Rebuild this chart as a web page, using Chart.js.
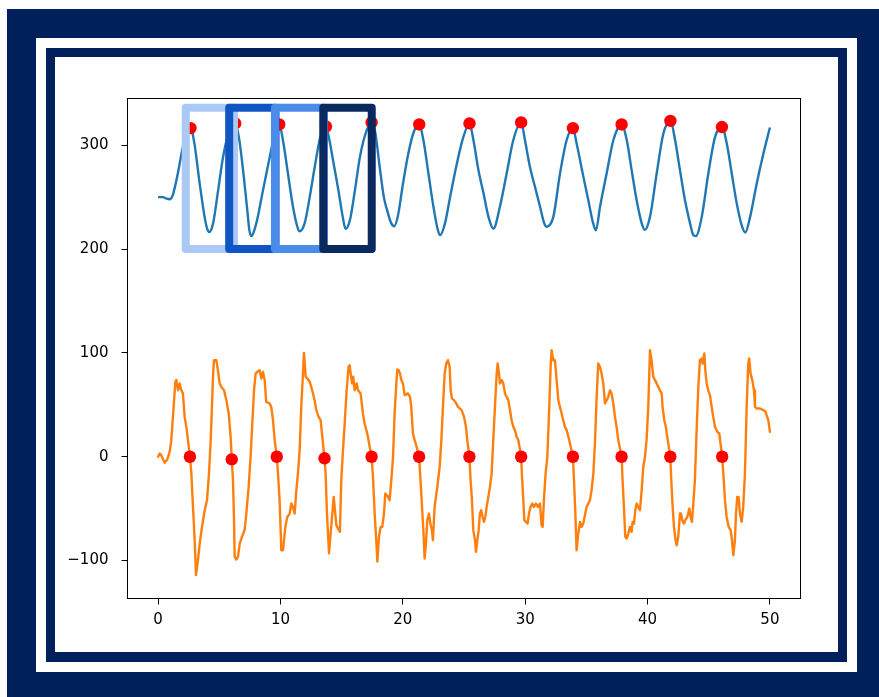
<!DOCTYPE html>
<html>
<head>
<meta charset="utf-8">
<script src="https://cdn.jsdelivr.net/npm/chart.js@4.4.0/dist/chart.umd.min.js"></script>
<style>
  html, body { margin: 0; padding: 0; background: #fff; }
  #stage { position: relative; width: 879px; height: 697px; overflow: hidden; background: #fff; }
  .f { position: absolute; }
  #outer { left: 7px; top: 9px; right: 0; bottom: 0; background: #00205b; }
  #gap   { left: 36px; top: 38px; width: 821px; height: 634px; background: #fff; }
  #inner { left: 46px; top: 48px; width: 801px; height: 614px; background: #00205b; }
  #panel { left: 55px; top: 57px; width: 783px; height: 595px; background: #fff; }
  #plot  { position: absolute; left: 0; top: 0; }
</style>
</head>
<body>
<div id="stage">
  <div class="f" id="outer"></div>
  <div class="f" id="gap"></div>
  <div class="f" id="inner"></div>
  <div class="f" id="panel"></div>
  <canvas id="plot" width="879" height="697"></canvas>
</div>
<script>
// Pressure waveform (time, value)
const blueT = [0,0.4,0.7,0.95,1.2,1.6,2.0,2.3,2.65,2.95,
  3.4,3.8,4.0,4.18,4.5,4.9,5.3,5.8,6.3,6.6,
  7.0,7.3,7.45,7.6,8.03,8.58,9.13,9.6,9.9,10.2,
  10.61,11.02,11.38,11.56,11.98,12.39,12.8,13.2,13.5,13.72,
  14.0,14.32,14.73,15.09,15.32,15.68,16.09,16.5,17.05,17.45,
  17.75,18.1,18.45,18.75,19.05,19.3,19.6,20.0,20.45,20.9,
  21.34,21.68,22.09,22.5,22.85,23.05,23.45,23.86,24.41,24.95,
  25.45,25.77,26.18,26.59,27.0,27.4,27.94,28.49,29.03,29.67,
  29.98,30.39,30.8,31.21,31.55,31.75,32.3,32.85,33.39,33.9,
  34.2,34.75,35.16,35.55,35.78,36.12,36.66,37.21,37.88,38.3,
  38.7,39.11,39.52,39.78,40.2,40.75,41.29,41.87,42.25,42.65,
  43.06,43.47,43.74,43.94,44.43,44.97,45.52,46.08,46.47,46.88,
  47.29,47.69,47.99,48.38,48.92,49.47,50.0];
const blueV = [250,250,248.5,248,252,272,297,312,316.5,303,
  263,231,220,216.5,225,256,288,313,321,308,
  270,236,219,212.5,225,257,289,314,320,305,
  273,241,221.5,217,225,250,279,305,316,318,
  305,284,257,231,219.5,228,257,289,314.5,322,
  312,280,250,236,225,222,232,262,292,313,
  320,305,273,241,219,213.5,225,250,282,308,
  321,305,276,254,231,219.5,241,273,305,322,
  305,279,260,241,225,221.5,231,273,305,316.5,
  302,270,247,225,218,241,273,305,320,305,
  276,247,225,218.5,231,273,311,323.5,305,276,
  247,225,213.5,212.5,231,273,308,317.5,302,273,
  244,223,216,231,263,292,317];

// ECG-like trace as [time, value]
const ecgSamples = [
  [0,0],[0.13,3.1],[0.26,1.5],[0.54,-5.9],[0.75,-2.7],[0.94,4.7],[1.08,16],[1.27,48],[1.41,72],[1.49,74],[1.63,64],[1.76,70.6],[1.9,64],[2.03,61],[2.17,38.4],[2.31,28.8],[2.44,16],[2.6,0],
  [2.72,-16],[2.85,-48],[2.99,-80],[3.1,-114],[3.26,-99.6],[3.4,-83.6],[3.59,-67.5],[3.81,-51.5],[4.0,-41.8],[4.16,-16],[4.3,16],[4.4,48],[4.51,83.4],[4.57,93],[4.76,93],[4.89,83.4],[5.03,70.6],[5.17,67.3],[5.39,64],[5.58,54.5],[5.77,41.7],[5.93,19.2],[6.02,-2.5],
  [6.12,-22.6],[6.2,-58],[6.26,-96.4],[6.39,-99],[6.53,-96.4],[6.67,-83.6],[6.86,-77],[7.07,-70.7],[7.21,-54.7],[7.4,-29],[7.56,0],[7.7,32],[7.84,64],[7.97,80],[8.11,81.8],[8.3,83.4],[8.44,75.4],[8.57,81.8],[8.71,73.8],[8.84,52.9],[9.12,51.3],[9.25,48],[9.39,35.2],[9.53,16],[9.7,0],
  [9.8,-16],[9.93,-41.8],[10.07,-90],[10.21,-90],[10.29,-80.4],[10.4,-67.5],[10.56,-58],[10.75,-54.7],[10.89,-45],[11.02,-48.3],[11.16,-54.7],[11.3,-32.2],[11.43,-16],[11.57,6.3],[11.7,48],[11.84,80],[11.92,100],[12.06,77],[12.2,75.4],[12.39,72.2],[12.52,67.3],[12.66,61],[12.79,54.5],[12.93,45],[13.12,38.4],[13.28,35.2],[13.42,19.2],[13.6,-1.5],
  [13.69,-16],[13.8,-54.7],[13.97,-93],[14.1,-74],[14.24,-54.7],[14.35,-38.6],[14.43,-48.3],[14.57,-66],[14.7,-69],[14.86,-72.3],[14.97,-22.6],[15.11,6.3],[15.25,32],[15.41,64],[15.57,86.6],[15.65,88.2],[15.74,80],[15.85,70.6],[15.95,77],[16.06,64],[16.23,70.6],[16.34,64],[16.55,61],[16.74,41.7],[16.88,32],[17.02,25.6],[17.15,19.2],[17.29,9.6],[17.45,0],
  [17.56,-19.4],[17.7,-54.7],[17.83,-80.4],[17.92,-101],[18.05,-77],[18.19,-67.5],[18.32,-67.5],[18.46,-54.7],[18.57,-35.4],[18.79,-38.6],[18.92,-41.8],[19.06,-22.6],[19.2,0],[19.33,41.7],[19.47,70.6],[19.55,84],[19.66,83.4],[19.77,80],[19.88,73.8],[20.01,70.6],[20.15,59.3],[20.42,61],[20.59,57.7],[20.69,48],[20.83,22.4],[20.97,16],[21.13,9.6],[21.33,0],
  [21.43,-19.4],[21.57,-48.3],[21.68,-70.7],[21.78,-98],[21.87,-86.8],[22,-61],[22.14,-54.7],[22.25,-64.3],[22.38,-70.7],[22.46,-80.4],[22.6,-48.3],[22.82,-29],[23.01,-9.7],[23.15,16],[23.28,48],[23.42,80],[23.55,89.8],[23.69,93],[23.83,86.6],[23.91,64],[24.02,56],[24.18,54.5],[24.37,51.3],[24.51,48],[24.81,44.9],[25,38.4],[25.16,28.8],[25.27,16],[25.44,0],
  [25.54,-22.6],[25.65,-41.8],[25.76,-70.7],[25.9,-80.4],[25.98,-91.6],[26.09,-80.4],[26.2,-70.7],[26.3,-54.7],[26.41,-51.5],[26.52,-58],[26.63,-62.7],[26.74,-58],[26.85,-48.3],[26.99,-38.6],[27.12,-29],[27.26,-16],[27.39,16],[27.53,48],[27.67,80],[27.75,89.8],[27.86,80],[27.94,70.6],[28.08,73.8],[28.21,70.6],[28.35,61],[28.48,57.7],[28.62,54.5],[28.76,45],[28.89,35.2],[29.03,28.8],[29.16,25.6],[29.3,19.2],[29.44,16],[29.67,0],
  [29.74,-19.4],[29.85,-41.8],[29.93,-61],[30.06,-62.7],[30.2,-64.3],[30.31,-54.7],[30.44,-48.3],[30.58,-45],[30.72,-48.3],[30.88,-45],[31.04,-48.3],[31.21,-45],[31.34,-66],[31.43,-67.5],[31.53,-41.8],[31.67,-16],[31.81,0],[31.97,48],[32.08,86.6],[32.16,102.7],[32.3,93],[32.43,93],[32.57,73.8],[32.71,54.5],[32.84,48],[32.98,41.7],[33.11,35.2],[33.25,28.8],[33.39,25.6],[33.6,16],[33.9,0],
  [33.99,-22.6],[34.1,-54.7],[34.2,-90],[34.34,-74],[34.48,-62.7],[34.61,-67.5],[34.75,-64.3],[34.88,-56.3],[35.02,-48.3],[35.16,-45],[35.29,-41.8],[35.43,-32.2],[35.57,-16],[35.7,12.8],[35.84,57.7],[35.97,89.8],[36.11,86.6],[36.25,80],[36.38,70.6],[36.52,51.3],[36.66,54.5],[36.79,57.7],[36.93,64],[37.06,61],[37.2,51.3],[37.34,38.4],[37.47,28.8],[37.61,16],[37.88,0],
  [37.96,-22.6],[38.07,-48.3],[38.18,-77],[38.29,-78.8],[38.43,-74],[38.56,-67.5],[38.7,-72.3],[38.78,-62.7],[38.89,-64.3],[39,-51.5],[39.11,-45],[39.24,-48.3],[39.38,-51.5],[39.52,-32.2],[39.65,-9.7],[39.79,0],[39.92,16],[40.06,48],[40.2,102.7],[40.33,93],[40.47,77],[40.61,73.8],[40.74,70.6],[40.88,67.3],[41.01,64],[41.15,61],[41.23,48],[41.37,35.2],[41.5,28.8],[41.61,19.2],[41.86,0],
  [41.94,-22.6],[42.05,-48.3],[42.16,-67.5],[42.29,-80.4],[42.38,-85.2],[42.51,-77],[42.65,-54.7],[42.73,-54.7],[42.87,-62.7],[42.98,-64.3],[43.08,-61],[43.25,-58],[43.41,-50],[43.52,-58],[43.63,-62.7],[43.74,-45],[43.87,-22.6],[44.01,25.6],[44.15,67.3],[44.28,93],[44.42,94.6],[44.5,89.8],[44.64,99.5],[44.72,83.4],[44.83,70.6],[44.96,64],[45.1,59.3],[45.24,48],[45.37,38.4],[45.51,28.8],[45.7,24],[45.86,22.4],[46.1,0],
  [46.19,-16],[46.33,-41.8],[46.46,-58],[46.63,-67.5],[46.79,-70.7],[46.9,-80.4],[47.01,-94.8],[47.14,-80.4],[47.23,-54.7],[47.33,-38.6],[47.44,-38.6],[47.55,-54.7],[47.69,-62.7],[47.82,-48.3],[47.96,-16],[48.1,48],[48.23,89.8],[48.31,94.6],[48.42,80],[48.56,73.8],[48.7,64],[48.78,48],[48.91,46.5],[49.19,46.5],[49.46,44.9],[49.65,43.3],[49.73,40.1],[49.87,35.2],[50,24]
];

// Detected systolic peaks on the pressure trace
const peakT = [2.65,6.3,9.9,13.72,17.45,21.34,25.45,29.67,33.9,37.88,41.87,46.08];
const peakV = [316.5,321,320,318,322,320,321,322,316.5,320,323.5,317.5];

// Falling zero crossings on the ECG trace
const crossT = [2.6,6.02,9.7,13.6,17.45,21.33,25.44,29.67,33.9,37.88,41.86,46.1];
const crossV = [0,-2.5,0,-1.5,0,0,0,0,0,0,0,0];

// Analysis windows (time span, value span)
const winStart = [2.26, 5.81, 9.55, 13.5];
const winEnd   = [6.2, 9.6, 13.55, 17.46];
const winLow = 200;
const winHigh = 336;

// Axis ticks
const xTicks = [0, 10, 20, 30, 40, 50];
const yTicks = [-100, 0, 100, 200, 300];

const winColors = ['#aac9f5', '#0f55c3', '#4b8ceb', '#0a2a5f'];

const toPts = (ts, vs) => ts.map((t, i) => ({ x: t, y: vs[i] }));

const framePlugin = {
  id: 'frame',
  afterDraw(chart) {
    const { ctx, chartArea: a } = chart;
    ctx.save();
    ctx.strokeStyle = '#000';
    ctx.lineWidth = 1;
    ctx.strokeRect(a.left, a.top, a.right - a.left, a.bottom - a.top);
    ctx.restore();
  }
};

const windowPlugin = {
  id: 'windows',
  afterDraw(chart) {
    const { ctx } = chart;
    const xs = chart.scales.x, ys = chart.scales.y;
    ctx.save();
    ctx.lineWidth = 8;
    ctx.lineJoin = 'round';
    winStart.forEach((s, i) => {
      const x1 = xs.getPixelForValue(s);
      const x2 = xs.getPixelForValue(winEnd[i]);
      const y1 = ys.getPixelForValue(winHigh);
      const y2 = ys.getPixelForValue(winLow);
      ctx.strokeStyle = winColors[i];
      ctx.strokeRect(x1, y1, x2 - x1, y2 - y1);
    });
    ctx.restore();
  }
};

const tickFont = { family: 'DejaVu Sans', size: 15 };

new Chart(document.getElementById('plot'), {
  type: 'line',
  data: {
    datasets: [
      { data: toPts(peakT, peakV), showLine: false, pointRadius: 6.2, pointBackgroundColor: '#ff0000',
        pointBorderWidth: 0, pointBorderColor: '#ff0000', order: 0 },
      { data: toPts(crossT, crossV), showLine: false, pointRadius: 6.2, pointBackgroundColor: '#ff0000',
        pointBorderWidth: 0, pointBorderColor: '#ff0000', order: 0 },
      { data: toPts(blueT, blueV), borderColor: '#1f77b4', borderWidth: 2.4, pointRadius: 0,
        cubicInterpolationMode: 'monotone', fill: false, order: 2 },
      { data: ecgSamples.map(p => ({ x: p[0], y: p[1] })), borderColor: '#ff7f0e', borderWidth: 2.4,
        pointRadius: 0, tension: 0, fill: false, borderJoinStyle: 'round', borderCapStyle: 'round', order: 1 }
    ]
  },
  options: {
    responsive: false,
    animation: false,
    devicePixelRatio: 1,
    events: [],
    layout: { padding: { left: 0, top: 98.5, right: 78.5, bottom: 0 } },
    plugins: { legend: { display: false }, tooltip: { enabled: false } },
    scales: {
      x: {
        type: 'linear', min: -2.5, max: 52.5,
        afterFit: s => { s.height = 98.5; },
        afterBuildTicks: s => { s.ticks = xTicks.map(v => ({ value: v })); },
        grid: { drawOnChartArea: false, drawTicks: true, tickLength: 6, color: '#000', lineWidth: 1 },
        border: { display: false },
        ticks: { font: tickFont, color: '#000', padding: 7, maxRotation: 0, autoSkip: false,
                 callback: v => String(v) }
      },
      y: {
        type: 'linear', min: -136.5, max: 345,
        afterFit: s => { s.width = 127.5; },
        afterBuildTicks: s => { s.ticks = yTicks.map(v => ({ value: v })); },
        grid: { drawOnChartArea: false, drawTicks: true, tickLength: 6, color: '#000', lineWidth: 1 },
        border: { display: false },
        ticks: { font: tickFont, color: '#000', padding: 13, autoSkip: false,
                 callback: v => (v < 0 ? '\u2212' + Math.abs(v) : String(v)) }
      }
    }
  },
  plugins: [framePlugin, windowPlugin]
});
</script>
</body>
</html>
